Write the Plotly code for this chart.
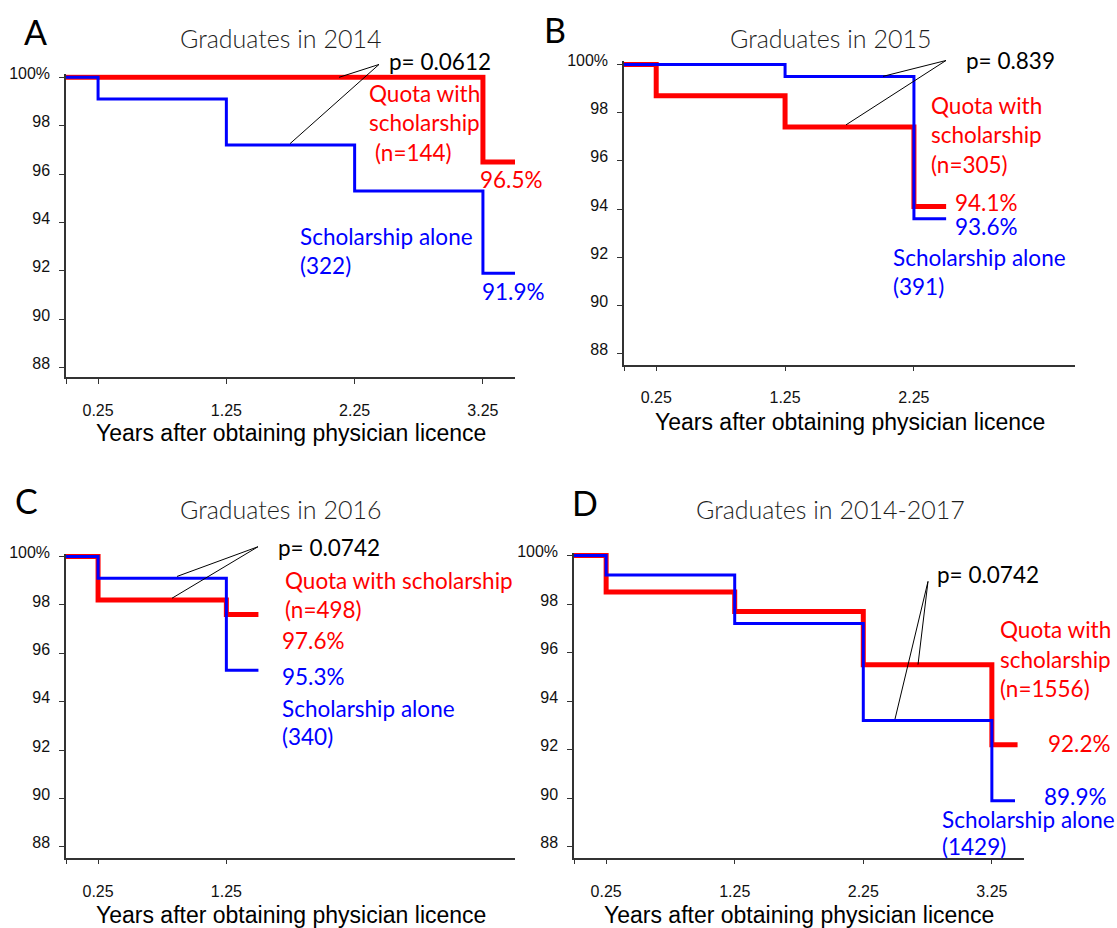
import plotly.graph_objects as go

W, H = 1117, 928

# ---------------- data ----------------
y_tick_vals = [88, 90, 92, 94, 96, 98, 100]
y_tick_text = ["88", "90", "92", "94", "96", "98", "100%"]
x_title = "Years after obtaining physician licence"

# Panel A – graduates 2014
a_title = "Graduates in 2014"
a_ticks = [0.25, 1.25, 2.25, 3.25]
a_quota_t = [0, 3.25, 3.5]
a_quota_s = [100, 96.5, 96.5]
a_alone_t = [0, 0.25, 1.25, 2.25, 3.25, 3.5]
a_alone_s = [100, 99.1, 97.2, 95.3, 91.9, 91.9]

# Panel B – graduates 2015
b_title = "Graduates in 2015"
b_ticks = [0.25, 1.25, 2.25]
b_quota_t = [0, 0.25, 1.25, 2.25, 2.5]
b_quota_s = [100, 98.7, 97.4, 94.1, 94.1]
b_alone_t = [0, 1.25, 2.25, 2.5]
b_alone_s = [100, 99.5, 93.6, 93.6]

# Panel C – graduates 2016
c_title = "Graduates in 2016"
c_ticks = [0.25, 1.25]
c_quota_t = [0, 0.25, 1.25, 1.5]
c_quota_s = [100, 98.2, 97.6, 97.6]
c_alone_t = [0, 0.25, 1.25, 1.5]
c_alone_s = [100, 99.1, 95.3, 95.3]

# Panel D – graduates 2014-2017
d_title = "Graduates in 2014-2017"
d_ticks = [0.25, 1.25, 2.25, 3.25]
d_quota_t = [0, 0.25, 1.25, 2.25, 3.25, 3.45]
d_quota_s = [100, 98.5, 97.7, 95.5, 92.2, 92.2]
d_alone_t = [0, 0.25, 1.25, 2.25, 3.25, 3.43]
d_alone_s = [100, 99.2, 97.2, 93.2, 89.9, 89.9]

# ---------------- styling ----------------
RED = "#FF0000"
BLUE = "#0000FF"
AXC = "#333333"
CAL = "Lato, Carlito, Calibri, sans-serif"
ARI = "Liberation Sans, Arial, sans-serif"
ANN = 22.5


def px(x):
    return x / W


def py(y):
    return 1 - y / H


panels = [
    dict(letter="A", letter_xy=(35, 23), title=a_title, title_xy=(280, 29),
         xd=(66, 515), yd=(66, 372), yr=(87.59, 100.123), ticks=a_ticks,
         quota=(a_quota_t, a_quota_s), alone=(a_alone_t, a_alone_s),
         xtitle_y=428,
         texts=[("p= 0.0612", 387, 53, "black"),
                ("Quota with", 367, 85, RED),
                ("scholarship", 367, 115, RED),
                ("(n=144)", 373, 145, RED),
                ("96.5%", 478, 172, RED),
                ("Scholarship alone", 298, 230, BLUE),
                ("(322)", 298, 259, BLUE),
                ("91.9%", 480, 285, BLUE)],
         conn=[((379, 56), (339, 69)), ((379, 56), (290, 136))]),
    dict(letter="B", letter_xy=(555, 21), title=b_title, title_xy=(830, 29),
         xd=(624, 1075), yd=(53, 359), yr=(87.55, 100.12), ticks=b_ticks,
         quota=(b_quota_t, b_quota_s), alone=(b_alone_t, b_alone_s),
         xtitle_y=417,
         texts=[("p= 0.839", 964, 52, "black"),
                ("Quota with", 929, 97, RED),
                ("scholarship", 929, 127, RED),
                ("(n=305)", 929, 157, RED),
                ("94.1%", 953, 195, RED),
                ("93.6%", 953, 220, BLUE),
                ("Scholarship alone", 891, 251, BLUE),
                ("(391)", 891, 280, BLUE)],
         conn=[((946, 52), (883, 68)), ((946, 52), (846, 117))]),
    dict(letter="C", letter_xy=(26, 496), title=c_title, title_xy=(280, 505),
         xd=(66, 515), yd=(550, 857), yr=(87.55, 100.12), ticks=c_ticks,
         quota=(c_quota_t, c_quota_s), alone=(c_alone_t, c_alone_s),
         xtitle_y=915,
         texts=[("p= 0.0742", 276, 544, "black"),
                ("Quota with scholarship", 283, 577, RED),
                ("(n=498)", 283, 606, RED),
                ("97.6%", 280, 638, RED),
                ("95.3%", 280, 674, BLUE),
                ("Scholarship alone", 280, 706, BLUE),
                ("(340)", 280, 735, BLUE)],
         conn=[((258, 543), (177, 573)), ((258, 543), (172, 595))]),
    dict(letter="D", letter_xy=(585, 498), title=d_title, title_xy=(830, 505),
         xd=(574, 1024), yd=(549, 857), yr=(87.55, 100.12), ticks=d_ticks,
         quota=(d_quota_t, d_quota_s), alone=(d_alone_t, d_alone_s),
         xtitle_y=915,
         texts=[("p= 0.0742", 935, 571, "black"),
                ("Quota with", 998, 627, RED),
                ("scholarship", 998, 657, RED),
                ("(n=1556)", 998, 686, RED),
                ("92.2%", 1046, 742, RED),
                ("89.9%", 1042, 795, BLUE),
                ("Scholarship alone", 940, 818, BLUE),
                ("(1429)", 940, 846, BLUE)],
         conn=[((928, 578), (918, 662)), ((928, 578), (895, 717))]),
]

fig = go.Figure()
annotations = []
shapes = []
layout = {}

for i, p in enumerate(panels):
    n = "" if i == 0 else str(i + 1)
    xa, ya = "x" + n, "y" + n
    fig.add_trace(go.Scatter(x=p["quota"][0], y=p["quota"][1], mode="lines",
                             line=dict(color=RED, width=5, shape="hv"),
                             xaxis=xa, yaxis=ya, showlegend=False, hoverinfo="skip"))
    fig.add_trace(go.Scatter(x=p["alone"][0], y=p["alone"][1], mode="lines",
                             line=dict(color=BLUE, width=3, shape="hv"),
                             xaxis=xa, yaxis=ya, showlegend=False, hoverinfo="skip"))
    layout["xaxis" + n] = dict(
        domain=[px(p["xd"][0]), px(p["xd"][1])], range=[0, 3.5], anchor=ya,
        showline=True, linecolor=AXC, linewidth=1.5, mirror=False,
        ticks="outside", ticklen=5, tickwidth=1.3, tickcolor=AXC,
        tickvals=[0] + p["ticks"], ticktext=[""] + [f"{t:.2f}" for t in p["ticks"]],
        tickfont=dict(family=ARI, size=16, color="#111111"),
        ticklabelstandoff=13,
        showgrid=False, zeroline=False, fixedrange=True)
    layout["yaxis" + n] = dict(
        domain=[py(p["yd"][1]), py(p["yd"][0])], range=list(p["yr"]), anchor=xa,
        showline=True, linecolor=AXC, linewidth=1.5,
        ticks="outside", ticklen=5, tickwidth=1.3, tickcolor=AXC,
        tickvals=y_tick_vals, ticktext=y_tick_text,
        tickfont=dict(family=ARI, size=16, color="#111111"),
        ticklabelstandoff=6, ticklabelshift=-4,
        showgrid=False, zeroline=False, fixedrange=True)

    # panel letter
    annotations.append(dict(text=p["letter"], x=px(p["letter_xy"][0]), y=py(p["letter_xy"][1]),
                            xref="paper", yref="paper", xanchor="center", yanchor="middle",
                            showarrow=False, font=dict(family=CAL, size=34, color="black")))
    # title
    annotations.append(dict(text=p["title"], x=px(p["title_xy"][0]), y=py(p["title_xy"][1]),
                            xref="paper", yref="paper", xanchor="center", yanchor="middle",
                            showarrow=False,
                            font=dict(family=CAL, size=25, color="#1e1e1e", weight=300)))
    # x axis title
    annotations.append(dict(text=x_title, x=px((p["xd"][0] + p["xd"][1]) / 2), y=py(p["xtitle_y"]),
                            xref="paper", yref="paper", xanchor="center", yanchor="middle",
                            showarrow=False, font=dict(family=ARI, size=23, color="black")))
    for (t, tx, ty, col) in p["texts"]:
        annotations.append(dict(text=t, x=px(tx), y=py(ty), xref="paper", yref="paper",
                                xanchor="left", yanchor="middle", showarrow=False,
                                font=dict(family=CAL, size=ANN, color=col)))
    for (a, b) in p["conn"]:
        shapes.append(dict(type="line", xref="paper", yref="paper",
                           x0=px(a[0]), y0=py(a[1]), x1=px(b[0]), y1=py(b[1]),
                           line=dict(color="black", width=1)))

fig.update_layout(
    width=W, height=H, margin=dict(l=0, r=0, t=0, b=0),
    paper_bgcolor="white", plot_bgcolor="white",
    annotations=annotations, shapes=shapes, showlegend=False,
    **layout)

post = (
    "document.documentElement.style.margin='0';"
    "document.documentElement.style.padding='0';"
    "document.documentElement.style.overflow='hidden';"
    "document.body.style.margin='0';"
    "document.body.style.padding='0';"
    "document.body.style.overflow='hidden';"
    "var gd=document.getElementById('{plot_id}');"
    "gd.style.position='absolute';gd.style.top='0px';gd.style.left='0px';"
)

fig.write_html("out.html", config={"displayModeBar": False}, post_script=post)
